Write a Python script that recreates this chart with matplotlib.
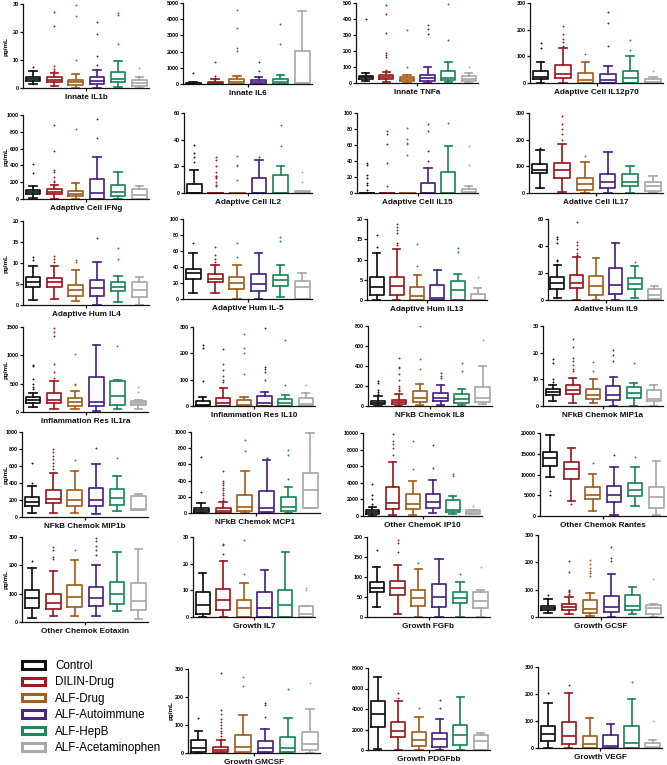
import numpy as np
import matplotlib
matplotlib.use("Agg")
import matplotlib.pyplot as plt
from matplotlib.patches import Patch

plt.rcParams['font.family'] = ['Liberation Sans', 'DejaVu Sans']

groups = ["Control", "DILIN-Drug", "ALF-Drug", "ALF-Autoimmune", "ALF-HepB", "ALF-Acetaminophen"]
colors = ["#111111", "#9E1B20", "#A4611E", "#4B2586", "#1C8A57", "#A9A9A9"]

# (whisker low, q1, median, q3, whisker high) per group; outliers per group
il1b = [(1.5, 2.6, 3.2, 4.0, 6.0), (0.7, 2.3, 3.0, 3.9, 5.5), (0, 1.2, 2.2, 3.0, 5.0),
        (0, 1.5, 2.4, 4.0, 6.3), (0.2, 2.0, 3.3, 5.7, 9.5), (0, 0.8, 1.8, 3.0, 3.8)]
il1b_out = [[7.5], [27, 22, 7.8, 6.8, 6.2], [29.5, 25.6, 10], [23.5, 19.2, 11.4, 8.2], [26.8, 26, 15.7], [7.3]]

il6 = [(0, 10, 30, 60, 120), (0, 10, 40, 100, 300), (0, 30, 150, 300, 520),
       (0, 20, 100, 260, 450), (0, 30, 150, 310, 580), (50, 50, 80, 2050, 4520)]
il6_out = [[700], [1350, 480, 380, 320], [4550, 3450, 2200, 2050], [1350, 800], [3700, 2500], []]

tnfa = [(15, 28, 37, 45, 65), (5, 25, 37, 50, 70), (0, 15, 28, 38, 50),
        (0, 15, 30, 52, 100), (5, 20, 32, 75, 130), (0, 10, 25, 45, 60)]
tnfa_out = [[400], [490, 430, 310, 185, 175, 160, 80], [330, 100], [365, 340, 305], [495, 270], [100]]

il12p70 = [(0, 15, 22, 45, 80), (0, 18, 35, 68, 132), (0, 0, 12, 38, 78),
           (0, 0, 12, 35, 63), (0, 0, 20, 44, 103), (0, 0, 2, 16, 22)]
il12p70_out = [[150, 130], [215, 185, 165, 155, 140], [110], [265, 225, 140], [160, 125], [45]]

ifng = [(10, 55, 80, 110, 160), (0, 55, 80, 115, 170), (0, 30, 60, 100, 190),
        (0, 0, 70, 235, 505), (0, 40, 80, 165, 325), (0, 0, 50, 120, 150)]
ifng_out = [[420, 310], [880, 570, 350, 320, 260, 220, 200], [830], [950, 730], [], []]

il2 = [(0, 0, 0, 7, 17), (0, 0, 0, 0, 0), (0, 0, 0, 0, 0),
       (0, 0, 0, 11, 25), (0, 0, 0, 13.5, 20), (0, 0, 0.5, 1.5, 1)]
il2_out = [[36, 30, 27, 23], [27, 25, 20, 16, 13, 12.5, 12, 11.5, 8, 6, 5], [28, 21, 20, 10], [27], [51, 35], [16, 8]]

il15 = [(0, 0, 0, 0, 0), (0, 0, 0, 0, 0), (0, 0, 0, 0, 0),
        (0, 0, 0, 12.5, 31), (0, 0, 0, 26, 59), (0, 0, 1, 4.5, 9)]
il15_out = [[37, 35, 22, 19, 13, 10, 4], [78, 74, 61, 37, 9], [81, 67, 63, 61, 47], [86, 77, 52, 40], [87], [59, 35]]

il17 = [(20, 75, 85, 107, 160), (5, 55, 85, 112, 182), (0, 12, 35, 55, 115),
        (0, 18, 42, 72, 152), (0, 25, 40, 70, 100), (0, 8, 28, 40, 65)]
il17_out = [[170], [290, 260, 240, 220, 200], [140], [], [], []]

il4 = [(1.1, 4.3, 5.4, 6.7, 9.4), (1.5, 4.4, 5.4, 6.5, 9.4), (1.0, 2.2, 3.6, 4.8, 8.3),
       (0, 2.2, 4.0, 6.0, 10.2), (0.7, 3.3, 4.4, 5.4, 6.8), (0, 2.0, 3.6, 5.4, 6.6)]
il4_out = [[11.5, 10.8], [11.7, 11.0, 10.3], [10.8, 10.3], [15.9], [13.5, 11.0], []]

il5 = [(8, 25, 32, 38, 57), (7, 21, 25, 31, 43), (0, 12, 20, 27, 43),
       (0, 10, 19, 31, 57), (2, 16, 24, 30, 42), (0, 0, 15, 23, 32)]
il5_out = [[70], [65, 55, 50, 46], [70, 53], [], [77, 72], []]

il13 = [(0, 1.2, 3.3, 5.6, 11.5), (0, 1.3, 3.5, 5.8, 12.7), (0, 0, 1.0, 3.1, 6.1),
        (0, 0, 0.6, 3.6, 7.3), (0, 0, 2.4, 4.7, 6.3), (0, 0, 0, 1.5, 3.0)]
il13_out = [[16, 13], [18.7, 18.0, 17.2, 16.5, 14.0, 13.5], [13.8, 8.5], [], [12.8, 11.8], [5.6]]

il9 = [(1.5, 8.5, 12.5, 17, 26), (0, 9, 12.5, 18.5, 31.5), (0, 4, 10, 18, 31),
       (0, 4.5, 11, 24, 42.5), (1.5, 8, 12, 16, 25), (0, 1, 4, 8.5, 10)]
il9_out = [[47, 45, 42, 30, 29], [58, 43, 41, 38, 35, 33], [], [], [28], []]

il1ra = [(80, 160, 210, 270, 340), (60, 160, 220, 330, 550), (50, 100, 170, 250, 370),
         (20, 100, 180, 620, 1180), (50, 130, 280, 555, 560), (50, 120, 160, 200, 210)]
il1ra_out = [[830, 810, 580, 500, 450, 400], [1480, 1420, 1350, 850, 700, 600], [1030, 500, 480], [], [1170], [450, 350]]

il10 = [(0, 0, 5, 18, 35), (0, 0, 10, 32, 70), (0, 0, 5, 22, 35),
        (0, 0, 12, 38, 55), (0, 0, 10, 25, 42), (0, 0, 8, 30, 48)]
il10_out = [[230, 220, 95], [215, 160, 135, 115, 100, 90], [275, 220, 200, 120], [295, 150, 140, 130, 100], [250, 78], [78]]

il8 = [(0, 20, 35, 55, 100), (0, 20, 40, 65, 120), (10, 45, 80, 150, 225),
       (15, 50, 85, 135, 215), (10, 35, 75, 125, 175), (20, 40, 85, 195, 405)]
il8_out = [[250, 230, 160, 140, 120], [480, 390, 380, 320, 260, 200, 180, 160, 150], [800, 470, 370], [330, 300, 280], [430, 355], [660]]

mip1a = [(2, 4.3, 5.2, 6.2, 8), (1.3, 4.6, 6, 8, 10.5), (1.2, 2.8, 4.3, 6.3, 10.3),
         (0, 2.3, 4.1, 7.6, 10.8), (0, 3, 4.8, 7, 8.8), (0, 1.8, 2.8, 6, 7.7)]
mip1a_out = [[17.5, 16, 10, 9], [25, 22, 18, 17, 15.5, 14, 13], [16.5, 13], [21, 19, 17], [16], []]

mip1b = [(45, 130, 180, 240, 365), (50, 160, 210, 320, 520), (45, 130, 195, 320, 545),
         (40, 130, 200, 340, 625), (70, 145, 220, 325, 485), (80, 85, 100, 250, 270)]
mip1b_out = [[640, 400], [800, 760, 720, 680, 640, 600, 560], [675], [810], [700], []]

mcp1 = [(0, 10, 35, 65, 120), (0, 5, 30, 65, 130), (0, 20, 75, 225, 520),
        (0, 10, 60, 270, 650), (0, 30, 80, 195, 320), (60, 60, 280, 500, 990)]
mcp1_out = [[690, 260], [520, 390, 370, 340, 310, 280, 250, 220, 190, 160], [900, 760], [680], [780, 710, 420], []]

ip10 = [(0, 200, 450, 700, 1100), (100, 800, 1600, 3500, 6500), (100, 800, 1500, 2600, 4200),
        (400, 1000, 1700, 2600, 4300), (300, 450, 700, 1900, 2400), (250, 300, 500, 750, 750)]
ip10_out = [[3800, 2500, 2000, 1400], [9900, 9000, 8700, 8200, 7400], [9000, 5700], [8500, 5800], [5100, 4800], [1200]]

rantes = [(9300, 12000, 13900, 15500, 19500), (3500, 9000, 11300, 13100, 16300), (1200, 4000, 5100, 7000, 10200),
          (300, 3300, 5000, 7200, 11800), (2300, 4800, 6300, 8000, 11800), (300, 2000, 4500, 6900, 13300)]
rantes_out = [[6000, 5000], [2800], [12800], [14800], [14300], []]

eotaxin = [(15, 50, 83, 113, 190), (22, 45, 68, 100, 180), (20, 52, 90, 130, 220),
           (22, 55, 86, 123, 200), (38, 65, 100, 140, 248), (10, 43, 73, 137, 258)]
eotaxin_out = [[215], [265, 255, 230, 222], [255], [298, 285, 270, 255, 235], [], []]

il7 = [(0, 1.3, 4.5, 9.3, 16.5), (0, 2.8, 6.5, 10.5, 21), (0, 0, 3.2, 6.5, 12.7),
       (0, 0, 3.5, 9.2, 17.6), (0, 0, 4.6, 10.2, 24.5), (0, 0, 1.3, 4, 4)]
il7_out = [[], [27.5, 27, 23.5], [29, 16], [], [], [10.8, 10]]

fgfb = [(25, 62, 73, 88, 125), (8, 55, 72, 90, 130), (0, 28, 48, 68, 120),
        (0, 25, 50, 82, 145), (0, 35, 47, 63, 87), (0, 22, 40, 62, 67)]
fgfb_out = [[167], [192, 185, 162], [135], [], [108], [125]]

gcsf = [(15, 25, 32, 42, 65), (10, 27, 37, 48, 75), (5, 15, 30, 63, 88),
        (0, 18, 35, 78, 158), (10, 25, 42, 80, 110), (0, 10, 32, 45, 47)]
gcsf_out = [[82], [205, 165, 100, 95, 90, 85, 80], [210, 195, 180, 170, 160, 150], [255, 215, 205], [], [138]]

gmcsf = [(0, 5, 18, 47, 80), (0, 3, 10, 22, 45), (0, 3, 20, 63, 135),
         (0, 5, 18, 42, 85), (0, 3, 18, 57, 125), (0, 10, 33, 75, 158)]
gmcsf_out = [[125], [285, 155, 140, 120, 110, 100, 90, 80, 70, 60, 50], [270, 240], [180, 170, 130], [230], [250]]

pdgfbb = [(100, 2200, 3550, 4800, 7100), (0, 1300, 1850, 2750, 4800), (0, 350, 950, 1800, 3200),
          (0, 300, 1050, 1650, 3050), (0, 500, 1450, 2450, 5200), (0, 0, 850, 1450, 1700)]
pdgfbb_out = [[], [5600, 5100], [4100], [4900, 4100], [], []]

vegf = [(0, 25, 52, 80, 165), (0, 15, 43, 95, 205), (0, 0, 15, 45, 110),
        (0, 0, 8, 50, 90), (0, 0, 20, 80, 180), (0, 0, 5, 18, 30)]
vegf_out = [[205], [235], [115], [], [243], [100]]

titles = ["Innate IL1b", "Innate IL6", "Innate TNFa", "Adaptive Cell IL12p70",
          "Adaptive Cell IFNg", "Adaptive Cell IL2", "Adaptive Cell IL15", "Adative Cell IL17",
          "Adaptive Hum IL4", "Adaptive Hum IL-5", "Adaptive Hum IL13", "Adative Hum IL9",
          "Inflammation Res IL1ra", "Inflammation Res IL10", "NFkB Chemok IL8", "NFkB Chemok MIP1a",
          "NFkB Chemok MIP1b", "NFkB Chemok MCP1", "Other ChemoK IP10", "Other Chemok Rantes",
          "Other Chemok Eotaxin", "Growth IL7", "Growth FGFb", "Growth GCSF",
          "Growth GMCSF", "Growth PDGFbb", "Growth VEGF"]
y_max = [30, 5000, 500, 300, 1000, 60, 100, 300, 20, 100, 20, 60, 1500, 300, 800, 30,
         1000, 1000, 10000, 20000, 300, 30, 200, 300, 300, 8000, 300]
y_step = [10, 1000, 100, 100, 200, 20, 20, 100, 5, 20, 5, 20, 500, 100, 200, 10,
          200, 200, 2000, 5000, 100, 10, 50, 100, 100, 2000, 100]
stats_all = [il1b, il6, tnfa, il12p70, ifng, il2, il15, il17, il4, il5, il13, il9,
             il1ra, il10, il8, mip1a, mip1b, mcp1, ip10, rantes, eotaxin, il7, fgfb, gcsf,
             gmcsf, pdgfbb, vegf]
outs_all = [il1b_out, il6_out, tnfa_out, il12p70_out, ifng_out, il2_out, il15_out, il17_out,
            il4_out, il5_out, il13_out, il9_out, il1ra_out, il10_out, il8_out, mip1a_out,
            mip1b_out, mcp1_out, ip10_out, rantes_out, eotaxin_out, il7_out, fgfb_out, gcsf_out,
            gmcsf_out, pdgfbb_out, vegf_out]

# panel boxes in pixels: (left, right, top, bottom)
boxes = [
    (23, 149, 4, 88), (183, 312, 3, 84), (356, 478, 3, 83), (530, 663, 3, 83),
    (23, 149, 115, 199), (184, 312, 113, 193), (357, 478, 113, 193), (529, 663, 113, 193),
    (23, 149, 221, 305), (183, 312, 219, 299), (367, 487, 219, 300), (548, 663, 219, 300),
    (23, 148, 327, 412), (193, 315, 327, 406), (368, 492, 326, 406), (543, 663, 326, 406),
    (22, 148, 432, 517), (191, 320, 432, 513), (363, 482, 433, 516), (540, 666, 433, 516),
    (22, 148, 537, 622), (193, 315, 537, 617), (367, 490, 537, 617), (538, 663, 535, 617),
    (188, 320, 669, 753), (368, 490, 668, 750), (538, 662, 667, 748),
]
# panels with "pg/mL" label -> label x position in pixels
ylab_x = {0: 9, 4: 9, 8: 9, 12: 9, 16: 9, 20: 9, 24: 174}

W, H = 667, 765
fig = plt.figure(figsize=(W / 100, H / 100), dpi=100)

LW = 1.25
for k, title in enumerate(titles):
    l, r, t, b = boxes[k]
    ax = fig.add_axes([l / W, 1 - b / H, (r - l) / W, (b - t) / H])
    for i in range(6):
        lo, q1, med, q3, hi = stats_all[k][i]
        st = dict(whislo=lo, q1=q1, med=med, q3=q3, whishi=hi,
                  fliers=np.array(outs_all[k][i], dtype=float))
        c = colors[i]
        ax.bxp([st], positions=[i + 1], widths=0.69, capwidths=0.35,
               boxprops=dict(color=c, lw=LW), whiskerprops=dict(color=c, lw=LW),
               capprops=dict(color=c, lw=LW), medianprops=dict(color=c, lw=LW),
               flierprops=dict(marker='o', markersize=1.0, markerfacecolor=c,
                               markeredgecolor=c, markeredgewidth=0.3, linestyle='none'),
               manage_ticks=False)
    ax.set_xlim(0.53, 6.45)
    ax.set_ylim(0, y_max[k])
    ax.set_yticks(np.arange(0, y_max[k] + y_step[k] * 0.5, y_step[k]))
    ax.set_xticks([3.5])
    ax.set_xticklabels([])
    for s in ['top', 'right']:
        ax.spines[s].set_visible(False)
    for s in ['left', 'bottom']:
        ax.spines[s].set_linewidth(0.9)
        ax.spines[s].set_color('#111111')
    ax.tick_params(axis='both', direction='out', length=2.2, width=0.9, color='#111111')
    ax.tick_params(axis='y', labelsize=3.9, pad=0.8)
    for lab in ax.get_yticklabels():
        lab.set_fontweight('bold')
    ax.annotate(title, xy=(0.5, 0), xycoords='axes fraction', xytext=(0, -6.8),
                textcoords='offset points', ha='center', va='center',
                fontsize=5.9, fontweight='bold', color='#111111')
    if k in ylab_x:
        ax.set_ylabel("pg/mL", fontsize=4.6, fontweight='bold')
        ax.yaxis.set_label_coords((ylab_x[k] - l) / (r - l), 0.5)

handles = [Patch(facecolor='white', edgecolor=c, linewidth=2.2) for c in colors]
fig.legend(handles, groups, loc='upper left', bbox_to_anchor=(22 / W, 1 - 660 / H),
           frameon=False, fontsize=8.4, borderpad=0, borderaxespad=0,
           handlelength=2.0, handleheight=0.6, handletextpad=0.85, labelspacing=0.38)

fig.savefig("out.png", dpi=100, facecolor='white')
